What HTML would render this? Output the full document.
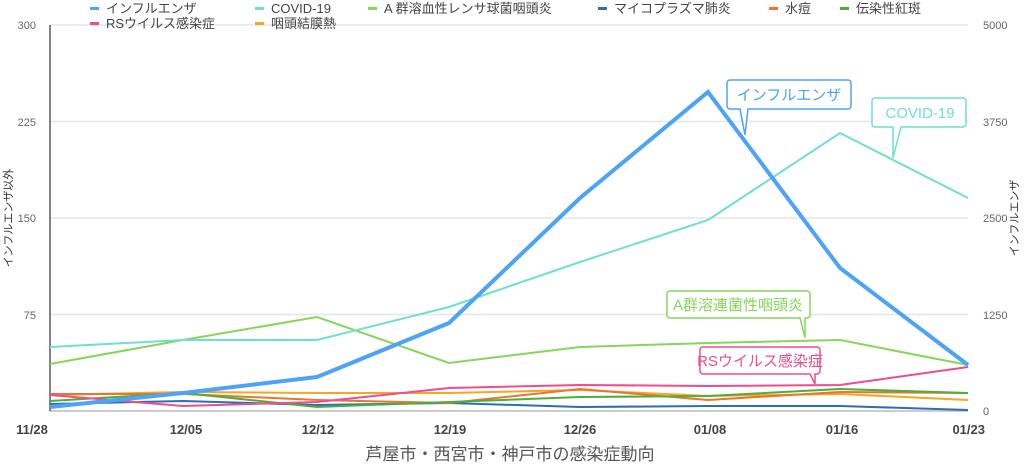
<!DOCTYPE html><html><head><meta charset="utf-8"><style>body{margin:0;background:#fff}svg{display:block;font-family:"Liberation Sans","Noto Sans CJK JP",sans-serif}</style></head><body>
<svg width="1024" height="469" viewBox="0 0 1024 469">
<g stroke="#e6e6e6" stroke-width="1.5"><line x1="50" y1="25" x2="968" y2="25"/><line x1="50" y1="121.5" x2="968" y2="121.5"/><line x1="50" y1="218" x2="968" y2="218"/><line x1="50" y1="314.5" x2="968" y2="314.5"/></g>
<line x1="50" y1="411" x2="968" y2="411" stroke="#bbb" stroke-width="1.5"/>
<line x1="50" y1="25" x2="50" y2="411" stroke="#333" stroke-width="1.2"/>
<g font-size="11" fill="#666" text-anchor="end"><text x="36" y="29">300</text><text x="36" y="126">225</text><text x="36" y="222">150</text><text x="36" y="319">75</text></g>
<g font-size="11" fill="#666"><text x="983" y="29">5000</text><text x="983" y="126">3750</text><text x="983" y="222">2500</text><text x="983" y="319">1250</text><text x="983" y="415">0</text></g>
<text transform="translate(12,218) rotate(-90)" font-size="11" fill="#333" text-anchor="middle">インフルエンザ以外</text>
<text transform="translate(1018,218) rotate(-90)" font-size="11" fill="#333" text-anchor="middle">インフルエンザ</text>
<g font-size="13" fill="#444" font-weight="bold" text-anchor="middle"><text x="32" y="434">11/28</text><text x="186" y="434">12/05</text><text x="318" y="434">12/12</text><text x="450" y="434">12/19</text><text x="580" y="434">12/26</text><text x="710" y="434">01/08</text><text x="842" y="434">01/16</text><text x="985" y="434" text-anchor="end">01/23</text></g>
<text x="510" y="460" font-size="17" fill="#555" text-anchor="middle">芦屋市・西宮市・神戸市の感染症動向</text>
<g fill="none" stroke-width="2">
<polyline stroke="#2f6db5" points="50,404 183,401 317,405 449,403 580,407 708,406 840,406 968,410"/>
<polyline stroke="#f5a623" points="50,395 183,392 317,393 449,393 580,390 708,396 840,394 968,400"/>
<polyline stroke="#e87530" points="50,394 183,394 317,400 449,403 580,389 708,400 840,392 968,393"/>
<polyline stroke="#4caf3a" points="50,401 183,393 317,407 449,402 580,397 708,396 840,389 968,393"/>
<polyline stroke="#ee4d8f" points="50,395 183,406 317,402 449,388 580,385 708,386 840,385 968,367"/>
<polyline stroke="#86d65a" points="50,364 183,340 317,317 449,363 580,347 708,343 840,340 968,365"/>
<polyline stroke="#6fe0cc" points="50,347 183,340 317,340 449,307 580,262 708,220 840,133 968,198"/>
<polyline stroke="#4da3f5" stroke-width="4" points="50,407 183,393 317,377 449,323 580,198 708,92 840,268 968,365"/>
</g>
<g font-size="15" stroke-width="1.5">
<path d="M730,80 h118 a3,3 0 0 1 3,3 v23 a3,3 0 0 1 -3,3 h-100 l-3,26 l-5,-26 h-10 a3,3 0 0 1 -3,-3 v-23 a3,3 0 0 1 3,-3z" fill="#fff" stroke="#4da3f5"/>
<text x="789" y="100" fill="#4da3f5" text-anchor="middle">インフルエンザ</text>
<path d="M875,98 h88 a3,3 0 0 1 3,3 v23 a3,3 0 0 1 -3,3 h-62 l-8,31 l0,-31 h-18 a3,3 0 0 1 -3,-3 v-23 a3,3 0 0 1 3,-3z" fill="#fff" stroke="#6fe0cc"/>
<text x="920" y="118" fill="#6fe0cc" text-anchor="middle">COVID-19</text>
<path d="M670,291 h137 a3,3 0 0 1 3,3 v21 a3,3 0 0 1 -3,3 h-2 l0,20 l-5,-20 h-130 a3,3 0 0 1 -3,-3 v-21 a3,3 0 0 1 3,-3z" fill="#fff" stroke="#86d65a"/>
<text x="738" y="310" fill="#86d65a" text-anchor="middle">A群溶連菌性咽頭炎</text>
<path d="M703,347 h114 a3,3 0 0 1 3,3 v21 a3,3 0 0 1 -3,3 h-2 l0,10 l-5,-10 h-107 a3,3 0 0 1 -3,-3 v-21 a3,3 0 0 1 3,-3z" fill="#fff" stroke="#ee4d8f"/>
<text x="760" y="366" fill="#ee4d8f" text-anchor="middle">RSウイルス感染症</text>
</g>
<g font-size="13" fill="#444">
<rect x="90" y="7" width="9" height="3" fill="#4da3f5"/><text x="106" y="13">インフルエンザ</text>
<rect x="255" y="7" width="9" height="3" fill="#6fe0cc"/><text x="271" y="13">COVID-19</text>
<rect x="368" y="7" width="9" height="3" fill="#86d65a"/><text x="384" y="13">A 群溶血性レンサ球菌咽頭炎</text>
<rect x="598" y="7" width="9" height="3" fill="#2f6db5"/><text x="614" y="13">マイコプラズマ肺炎</text>
<rect x="769" y="7" width="9" height="3" fill="#e87530"/><text x="785" y="13">水痘</text>
<rect x="840" y="7" width="9" height="3" fill="#4caf3a"/><text x="856" y="13">伝染性紅斑</text>
<rect x="90" y="22" width="9" height="3" fill="#ee4d8f"/><text x="106" y="28">RSウイルス感染症</text>
<rect x="255" y="22" width="9" height="3" fill="#f5a623"/><text x="271" y="28">咽頭結膜熱</text>
</g>
</svg></body></html>
